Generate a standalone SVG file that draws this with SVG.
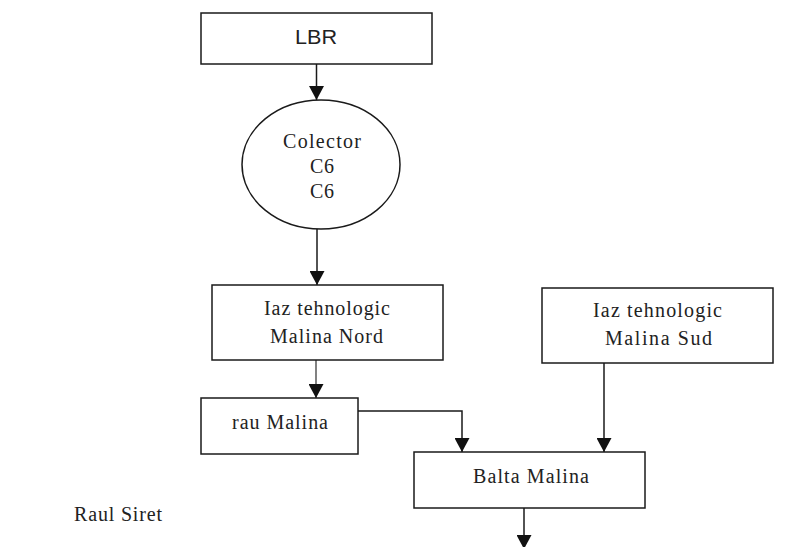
<svg xmlns="http://www.w3.org/2000/svg" width="811" height="547" viewBox="0 0 811 547">
  <style>
    .box { fill: #ffffff; stroke: #1a1a1a; stroke-width: 1.5; }
    .lbl { font-family: "Liberation Serif", "Times New Roman", serif; font-size: 20px; fill: #222222; text-anchor: start; }
    .sans { font-family: "Liberation Sans", Arial, sans-serif; font-size: 21px; fill: #222222; }
    .conn { fill: none; stroke: #1a1a1a; stroke-width: 1.5; }
  </style>
  <defs>
    <marker id="arrow" markerUnits="userSpaceOnUse" markerWidth="14" markerHeight="15" refX="14" refY="7.5" orient="auto">
      <path d="M0,0 L14,7.5 L0,15 z" fill="#111111"/>
    </marker>
  </defs>
  <rect width="811" height="547" fill="#ffffff"/>

  <g id="connectors">
    <path class="conn" d="M316.5,64 L316.5,100" marker-end="url(#arrow)"/>
    <path class="conn" d="M317,229 L317,285" marker-end="url(#arrow)"/>
    <path class="conn" style="stroke-width:1.1" d="M316,360 L316,398" marker-end="url(#arrow)"/>
    <path class="conn" d="M358,411 L462,411 L462,452" marker-end="url(#arrow)"/>
    <path class="conn" d="M604,363 L604,452" marker-end="url(#arrow)"/>
    <path class="conn" d="M524,508 L524,549" marker-end="url(#arrow)"/>
  </g>

  <g id="lbr">
    <rect class="box" x="201" y="13" width="231" height="51"/>
    <text class="sans" x="295" y="44" textLength="42" lengthAdjust="spacingAndGlyphs">LBR</text>
  </g>

  <g id="colector">
    <ellipse class="box" cx="321" cy="164.5" rx="79" ry="64.5"/>
    <text class="lbl" x="283" y="148" textLength="78" lengthAdjust="spacing">Colector</text>
    <text class="lbl" x="310" y="173" textLength="24" lengthAdjust="spacing">C6</text>
    <text class="lbl" x="310" y="198" textLength="24" lengthAdjust="spacing">C6</text>
  </g>

  <g id="iaz-nord">
    <rect class="box" x="212" y="285" width="231" height="75"/>
    <text class="lbl" x="264" y="315" textLength="126" lengthAdjust="spacing">Iaz tehnologic</text>
    <text class="lbl" x="270" y="343" textLength="113" lengthAdjust="spacing">Malina Nord</text>
  </g>

  <g id="iaz-sud">
    <rect class="box" x="542" y="288" width="231" height="75"/>
    <text class="lbl" x="593" y="317" textLength="129" lengthAdjust="spacing">Iaz tehnologic</text>
    <text class="lbl" x="605" y="345" textLength="107" lengthAdjust="spacing">Malina Sud</text>
  </g>

  <g id="rau-malina">
    <rect class="box" x="201" y="398" width="157" height="56"/>
    <text class="lbl" x="232" y="429" textLength="96" lengthAdjust="spacing">rau Malina</text>
  </g>

  <g id="balta-malina">
    <rect class="box" x="414" y="452" width="231" height="56"/>
    <text class="lbl" x="473" y="483" textLength="116" lengthAdjust="spacing">Balta Malina</text>
  </g>

  <g id="raul-siret">
    <text class="lbl" x="74" y="521" textLength="88" lengthAdjust="spacing">Raul Siret</text>
  </g>
</svg>
